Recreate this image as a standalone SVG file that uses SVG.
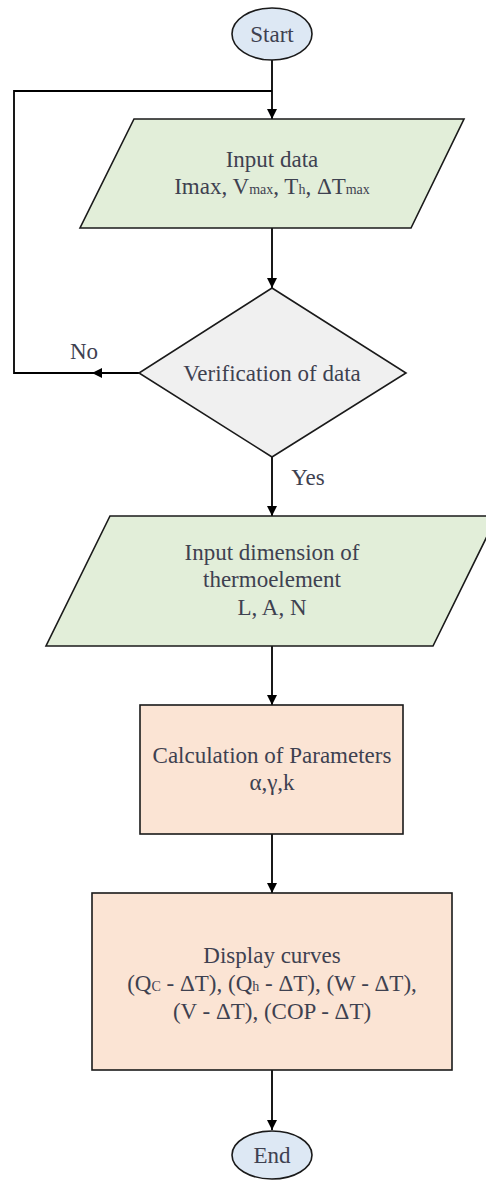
<svg xmlns="http://www.w3.org/2000/svg" width="486" height="1180" viewBox="0 0 486 1180">
  <style>
    .shape { stroke: #1a1a1a; stroke-width: 1.6; }
    .term { fill: #dde8f4; }
    .io { fill: #e2eed9; }
    .dec { fill: #f0f0f0; }
    .proc { fill: #fbe4d4; }
    .wire { fill: none; stroke: #000; stroke-width: 1.8; }
    text { font-size: 23px; fill: #3e4150; text-anchor: middle; }
    .sub { font-size: 14px; }
  </style>
  <defs>
    <marker id="arrow" viewBox="0 0 10 10" refX="10" refY="5" markerWidth="10" markerHeight="10" markerUnits="userSpaceOnUse" orient="auto">
      <path d="M0,0 L10,5 L0,10 Z" fill="#000"/>
    </marker>
  </defs>

  <g font-family="Liberation Serif, Times New Roman, serif">
  <!-- connectors -->
  <g id="connectors">
    <line class="wire" x1="272" y1="60" x2="272" y2="119" marker-end="url(#arrow)"/>
    <polyline class="wire" points="272,91 14,91 14,373 139,373"/>
    <!-- mid-line arrowhead on the "No" branch -->
    <line class="wire" x1="139" y1="373" x2="92" y2="373" marker-end="url(#arrow)" style="stroke:none"/>
    <line class="wire" x1="272" y1="228" x2="272" y2="288" marker-end="url(#arrow)"/>
    <line class="wire" x1="272" y1="457" x2="272" y2="516" marker-end="url(#arrow)"/>
    <line class="wire" x1="272" y1="646" x2="272" y2="705" marker-end="url(#arrow)"/>
    <line class="wire" x1="272" y1="834" x2="272" y2="893" marker-end="url(#arrow)"/>
    <line class="wire" x1="272" y1="1070" x2="272" y2="1130" marker-end="url(#arrow)"/>
    <text x="84" y="359">No</text>
    <text x="308" y="485">Yes</text>
  </g>

  <g id="start">
    <ellipse class="shape term" cx="272" cy="34" rx="40" ry="26"/>
    <text x="272" y="42">Start</text>
  </g>

  <g id="input-data">
    <polygon class="shape io" points="134,119 464,119 411,228 80,228"/>
    <text x="272" y="167">Input data</text>
    <text x="272" y="194">Imax, V<tspan class="sub">max</tspan>, T<tspan class="sub">h</tspan>, ΔT<tspan class="sub">max</tspan></text>
  </g>

  <g id="verification">
    <polygon class="shape dec" points="272,288 406,373 272,457 139,373"/>
    <text x="272" y="381">Verification of data</text>
  </g>

  <g id="input-dimension">
    <polygon class="shape io" points="110,516 497,516 433,646 46,646"/>
    <text x="272" y="560">Input dimension of</text>
    <text x="272" y="587">thermoelement</text>
    <text x="272" y="615">L, A, N</text>
  </g>

  <g id="calculation">
    <rect class="shape proc" x="140" y="705" width="263" height="129"/>
    <text x="272" y="763">Calculation of Parameters</text>
    <text x="272" y="790">α,γ,k</text>
  </g>

  <g id="display">
    <rect class="shape proc" x="92" y="893" width="360" height="177"/>
    <text x="272" y="963">Display curves</text>
    <text x="272" y="991">(Q<tspan class="sub">C</tspan> - ΔT), (Q<tspan class="sub">h</tspan> - ΔT), (W - ΔT),</text>
    <text x="272" y="1019">(V - ΔT), (COP - ΔT)</text>
  </g>

  <g id="end">
    <ellipse class="shape term" cx="272" cy="1155" rx="40" ry="24"/>
    <text x="272" y="1163">End</text>
  </g>
  </g>
</svg>
